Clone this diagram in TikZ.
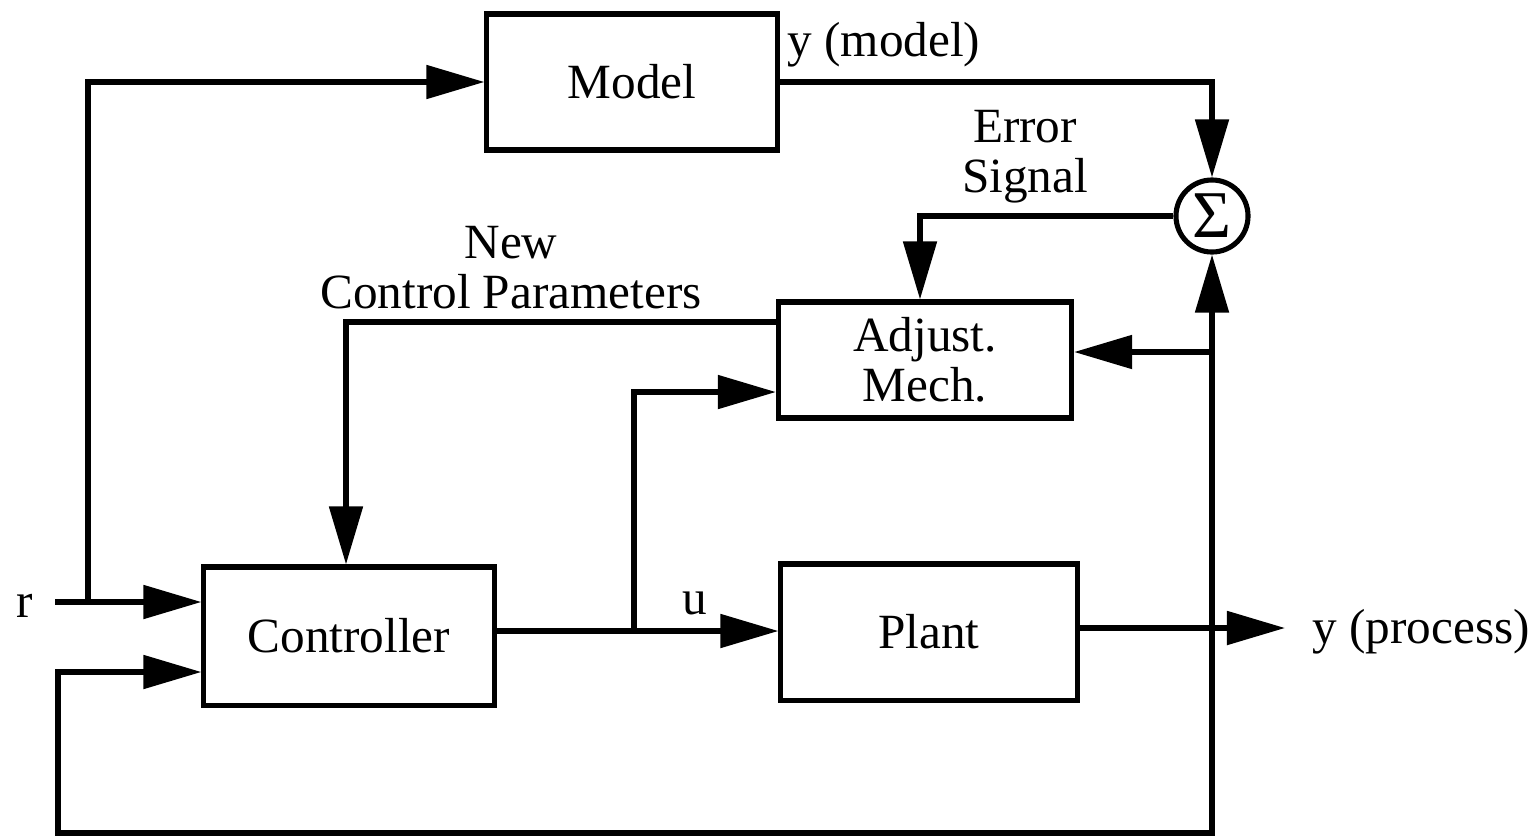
\documentclass[tikz,border=0pt]{standalone}
\usepackage{fontspec}
\setmainfont{Liberation Serif}
\usetikzlibrary{arrows.meta}
\newcommand\blockbox[5]{\node(#1)[blk,minimum width=#3,minimum height=#4] at (#2) {#5};}

\begin{document}
\begin{tikzpicture}[x=0.01cm,y=-0.01cm,line width=1.45pt,
    font=\fontsize{14}{14.2}\selectfont,
    blk/.style={draw,inner sep=0pt,align=center},
    sig/.style={-{Triangle[length=5.8mm,width=3.3mm]}}]
    \useasboundingbox (0,0) rectangle (1537,839);
    \blockbox{model}{632,82}{2.9cm}{1.36cm}{Model}
    \blockbox{adjust}{925,360}{2.93cm}{1.16cm}{Adjust.\\Mech.}
    \blockbox{ctrl}{349,636}{2.9cm}{1.38cm}{Controller}
    \blockbox{plant}{929,632}{2.96cm}{1.36cm}{Plant}
    \node(sum)[circle,draw,minimum size=0.72cm,inner sep=0pt,font=\fontsize{19}{19}\selectfont] at (1212,216) {Σ};
    % branch points
    \coordinate (rin) at (55,602);
    \coordinate (rsplit) at (88,602);
    \coordinate (ubr) at (634,631);
    \coordinate (ybr) at (1212,628);
    \coordinate (abr) at (1212,352);
    \coordinate (fbl) at (58,833);
    \coordinate (fbin) at (58,672);
    \coordinate (yout) at (1285,628);
    % labels
    \node(rlbl) at (25,606) {r};
    \node(ulbl) at (695,603) {u};
    \node(yplbl)[anchor=west,inner sep=0pt] at (1310,632) {y (process)};
    \node(ymlbl)[anchor=west,inner sep=0pt] at (785,45) {y (model)};
    \node(errlbl)[align=center] at (1025,157) {Error\\Signal};
    \node(parlbl)[align=center] at (511,268) {New\\Control Parameters};
    % signals
    \draw[sig] (rin) -- (rin -| ctrl.west);
    \draw[sig] (rsplit) |- (model.west);
    \draw[sig] (ctrl.east |- ubr) -- (ubr -| plant.west);
    \draw[sig] (ubr) |- ([yshift=-0.32cm]adjust.west);
    \draw[sig] (plant.east |- ybr) -- (yout);
    \draw[sig] (ybr) |- (fbl) -- (fbin) -- (fbin -| ctrl.west);
    \draw[sig] (ybr) -- (sum.south);
    \draw[sig] (abr) -- (abr -| adjust.east);
    \draw[sig] (model.east) -| (sum.north);
    \draw[sig] (sum.west) -| ([xshift=-0.05cm]adjust.north);
    \draw[sig] ([yshift=0.38cm]adjust.west) -| ([xshift=-0.03cm]ctrl.north);
\end{tikzpicture}
\end{document}
